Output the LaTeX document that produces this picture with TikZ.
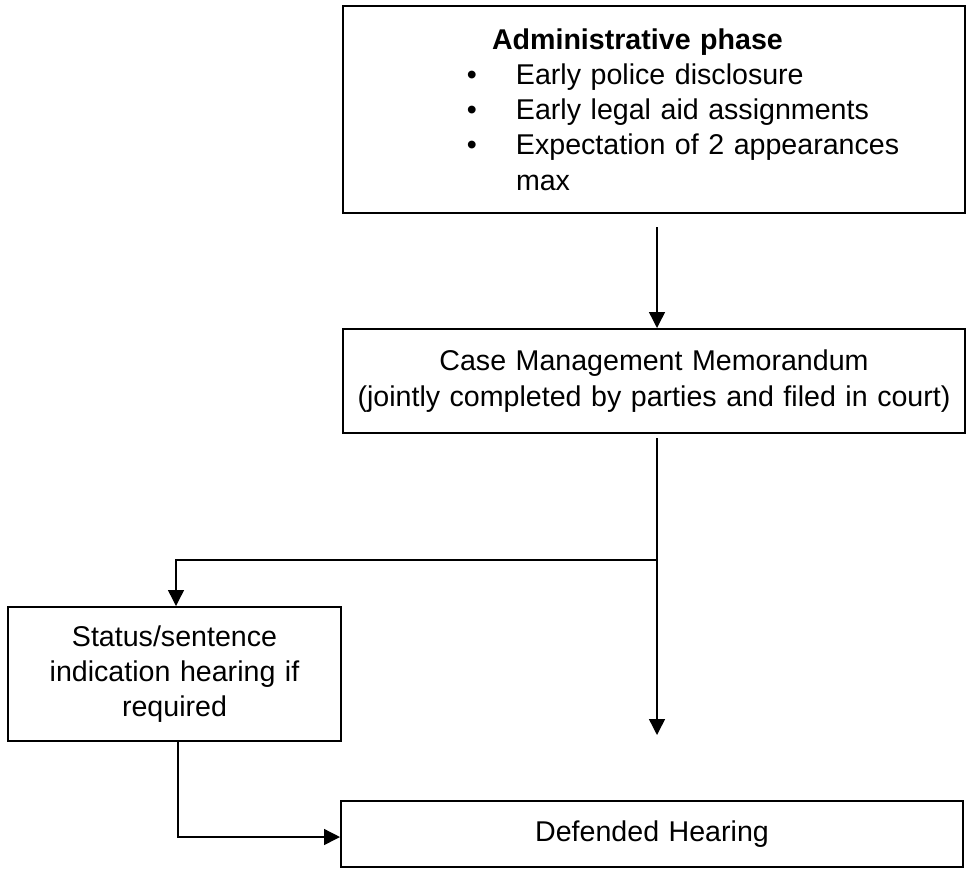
\documentclass[tikz,border=0pt]{standalone}
\usepackage{fontspec}
\setmainfont{Liberation Sans}
\usetikzlibrary{arrows.meta,positioning}
\newcommand{\phaseitem}{\par\leavevmode\llap{\textbullet\hspace{19.5pt}}}

\begin{document}
\begin{tikzpicture}[x=0.5pt, y=-0.5pt, font=\fontsize{14.3pt}{17.6pt}\selectfont]
% Define styles
\tikzstyle{process} = [rectangle, draw=black, line width=1pt, inner sep=0pt, minimum width=311pt, text width=311pt, align=center]
\tikzstyle{arrow} = [line width=0.7pt, -{Triangle[length=8pt, width=8pt]}]

\useasboundingbox (0,0) rectangle (967,868);

% Create nodes
\node (admin) [process, minimum height=103.5pt, align=left, anchor=north west] at (342,5) {\hspace*{74.5pt}\textbf{Administrative phase}\par\leftskip=86.5pt
\phaseitem Early police disclosure
\phaseitem Early legal aid assignments
\phaseitem Expectation of 2 appearances\newline max\par};
\node (cmm) [process, minimum height=52pt, below=57pt of admin.south west, anchor=north west] {Case Management Memorandum\\(jointly completed by parties and filed in court)};

% Side branch and final hearing
\node (status) [process, minimum width=166.5pt, text width=166.5pt, minimum height=67pt, below left=86pt and 0pt of cmm.south west, anchor=north east] {Status/sentence\\indication hearing if\\required};
\node (defended) [process, minimum height=33pt, below right=29pt and -1pt of status.south east, anchor=north west] {Defended Hearing};

% Free ends of the connectors
\coordinate (admin_out) at ([xshift=1.5pt, yshift=-6.5pt]admin.south);
\coordinate (cmm_out) at ([xshift=1.5pt, yshift=-2pt]cmm.south);
\coordinate (split) at ([yshift=-61pt]cmm_out);
\coordinate (hearing_in) at ([yshift=-87.5pt]split);

% Draw arrows
\draw [arrow] (admin_out) -- (admin_out |- cmm.north);
\draw [arrow] (cmm_out) -- (hearing_in);
\draw [arrow] (split) -| ([xshift=0.75pt]status.north);
\draw [arrow] ([xshift=1.75pt]status.south) |- ([yshift=-1.5pt]defended.west);
\end{tikzpicture}
\end{document}
